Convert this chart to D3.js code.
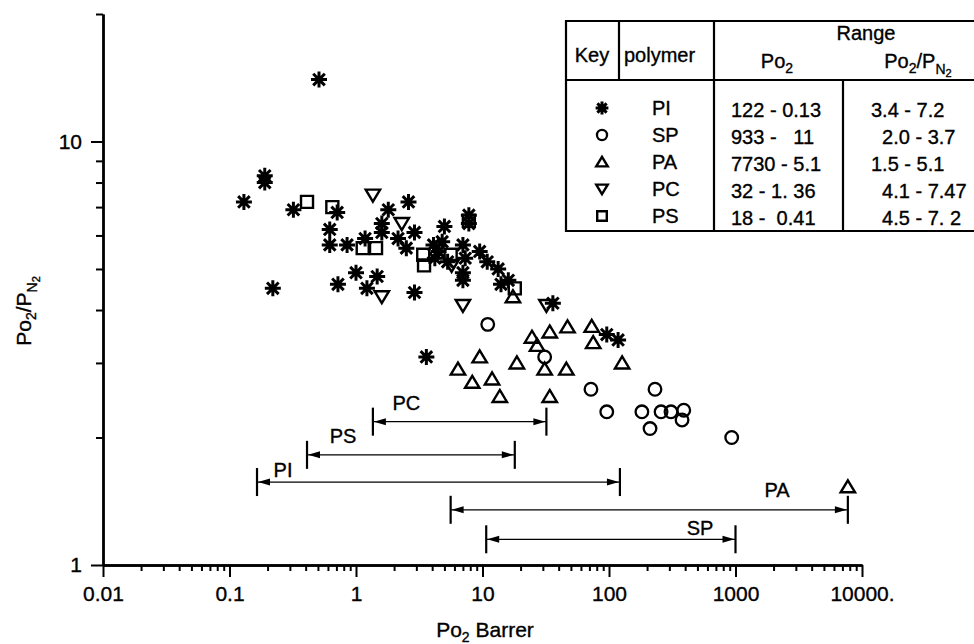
<!DOCTYPE html>
<html>
<head>
<meta charset="utf-8">
<script src="https://cdn.jsdelivr.net/npm/d3@7"></script>
<style>
  body { margin: 0; background: #fff; }
  svg { font-family: "Liberation Sans", Arial, sans-serif; }
  text { fill: #000; white-space: pre; stroke: #000; stroke-width: 0.35px; }
</style>
</head>
<body>
<svg id="SvgChart"></svg>
<script>
// ------ Data (Po2 in Barrer, selectivity Po2/PN2)
var piPoints = [[0.13,7.2],[0.19,8.3],[0.19,8.0],[0.32,6.9],[0.22,4.5],[0.51,14.0],[0.71,6.8],[0.62,6.2],[0.62,5.7],
	[0.85,5.7],[1.18,5.9],[1.6,6.4],[1.6,6.1],[1.8,6.9],[2.6,7.2],[2.15,5.9],[2.9,6.1],[2.5,5.6],[0.72,4.6],[1.0,4.9],
	[1.47,4.8],[1.22,4.5],[2.9,4.4],[3.6,3.1],[5.0,6.3],[7.8,6.7],[7.8,6.4],[4.1,5.7],[4.2,5.3],[4.8,5.8],[5.3,5.2],
	[4.5,5.5],[7.0,5.7],[7.3,5.3],[7.0,4.9],[7.0,4.7],[9.5,5.5],[10.9,5.2],[13.3,5.0],[14,4.6],[16,4.7],[36,4.15],
	[96,3.5],[118,3.4]];
var spPoints = [[11,3.7],[31,3.1],[72,2.6],[96,2.3],[182,2.3],[231,2.6],[258,2.3],[309,2.3],[390,2.32],[378,2.2],
	[211,2.1],[933,2.0]];
var paPoints = [[17.4,4.3],[24.6,3.45],[27,3.3],[34,3.55],[47,3.65],[73,3.66],[75,3.35],[127,3.0],[9.5,3.1],[18.7,3.0],
	[31,2.9],[46,2.9],[6.4,2.9],[8.3,2.7],[11.9,2.75],[13.7,2.5],[34,2.5],[7730,1.53]];
var pcPoints = [[1.36,7.47],[2.3,6.4],[1.6,4.3],[5.7,5.1],[7.0,4.1],[32,4.1]];
var psPoints = [[0.41,7.2],[0.65,7.0],[1.13,5.6],[1.44,5.6],[3.4,5.4],[3.45,5.1],[5.6,5.4],[18,4.5],[7.8,6.5]];

// ------ Range arrows
var rangeNames = ["PC","PS","PI","PA","SP"];
var rangeLo = [1.36, 0.41, 0.165, 5.6, 10.7];
var rangeHi = [32, 18, 122, 7730, 1000];
var rangeLevel = [2.18, 1.82, 1.57, 1.35, 1.15];
var rangeLabelX = [2.5, 0.79, 0.265, 2130, 524];
var rangeLabelY = [2.32, 1.94, 1.61, 1.447, 1.177];

// ------ Table (key)
var keyPolymers = ["PI","SP","PA","PC","PS"];
var keyPo2 = ["122 - 0.13","933 -   11","7730 - 5.1","32 - 1. 36","18 -  0.41"];
var keyRatio = ["3.4 - 7.2","  2.0 - 3.7","1.5 - 5.1","  4.1 - 7.47","  4.5 - 7. 2"];

// ------ Axis ticks
var xMajor = [0.01, 0.1, 1, 10, 100, 1000, 10000];
var xMajorLabels = ["0.01","0.1","1","10","100","1000","10000."];
var yMajor = [1, 10];
var yMajorLabels = ["1","10"];

// ------ Scales
var xScale = d3.scaleLog().domain([0.01, 10000]).range([103, 862]);
var yScale = d3.scaleLog().domain([1, 20]).range([565, 14]);

var svg = d3.select("#SvgChart").attr("width", 974).attr("height", 644);

// ------ Symbols
var symbolPaths = {
	PI: "M0,-8V8M-8,0H8M-5.8,-5.8L5.8,5.8M-5.8,5.8L5.8,-5.8",
	PA: "M0,-6.5L7.2,5.5H-7.2Z",
	PC: "M0,6.5L7.2,-5.5H-7.2Z",
	PS: "M-6,-6H6V6H-6Z"
};
function drawSymbol(g, kind, scale) {
	if (kind === "SP") {
		g.append("circle").attr("r", 6.3 * scale).attr("fill", "none").attr("stroke", "#000").attr("stroke-width", 2.3);
	} else {
		g.append("path").attr("d", symbolPaths[kind])
			.attr("transform", "scale(" + scale + ")")
			.attr("fill", "none").attr("stroke", "#000")
			.attr("stroke-width", (kind === "PI" ? 3 : 2.4) / scale)
			.attr("stroke-linejoin", "miter");
		if (kind === "PI") g.append("circle").attr("r", 3 * scale).attr("fill", "#000");
	}
}

// ------ Axes
var xAxisMajor = d3.axisBottom(xScale).tickValues(xMajor)
	.tickFormat(function(d, i) { return xMajorLabels[i]; })
	.tickSize(12).tickSizeOuter(0).tickPadding(9);
var xAxisMinor = d3.axisBottom(xScale)
	.tickValues(xScale.ticks().filter(function(d) { return xMajor.indexOf(d) < 0; }))
	.tickFormat("").tickSize(6).tickSizeOuter(0);
var yAxisMajor = d3.axisLeft(yScale).tickValues(yMajor)
	.tickFormat(function(d, i) { return yMajorLabels[i]; })
	.tickSize(12).tickSizeOuter(0).tickPadding(9);
var yAxisMinor = d3.axisLeft(yScale)
	.tickValues(yScale.ticks().filter(function(d) { return yMajor.indexOf(d) < 0; }))
	.tickFormat("").tickSize(7).tickSizeOuter(0);

[[xAxisMinor, "x"], [xAxisMajor, "x"], [yAxisMinor, "y"], [yAxisMajor, "y"]].forEach(function(a) {
	var g = svg.append("g")
		.attr("transform", a[1] === "x" ? "translate(0,565)" : "translate(103,0)")
		.call(a[0]);
	g.selectAll("path.domain").attr("stroke", "#000").attr("stroke-width", 2.4);
	g.selectAll(".tick line").attr("stroke", "#000").attr("stroke-width", 2);
	g.selectAll(".tick text").attr("font-size", 21).attr("fill", "#000")
		.attr("font-family", "'Liberation Sans', Arial, sans-serif");
});

// axis titles
svg.append("text").attr("x", 485).attr("y", 637).attr("text-anchor", "middle").attr("font-size", 21)
	.call(function(t) {
		t.append("tspan").text("Po");
		t.append("tspan").attr("dy", 5).attr("font-size", 14).text("2");
		t.append("tspan").attr("dy", -5).text(" Barrer");
	});
svg.append("text").attr("transform", "translate(31,311) rotate(-90)").attr("text-anchor", "middle").attr("font-size", 21)
	.call(function(t) {
		t.append("tspan").text("Po");
		t.append("tspan").attr("dy", 5).attr("font-size", 14).text("2");
		t.append("tspan").attr("dy", -5).text("/P");
		t.append("tspan").attr("dy", 6).attr("font-size", 14).text("N");
		t.append("tspan").attr("dy", 3).attr("font-size", 11).text("2");
	});

// ------ Range arrows
var arrows = svg.append("g");
rangeNames.forEach(function(name, i) {
	var x0 = xScale(rangeLo[i]), x1 = xScale(rangeHi[i]), y = yScale(rangeLevel[i]);
	arrows.append("line").attr("x1", x0).attr("x2", x1).attr("y1", y).attr("y2", y)
		.attr("stroke", "#000").attr("stroke-width", 1.3);
	[x0, x1].forEach(function(xe, k) {
		var dir = k === 0 ? 1 : -1;
		arrows.append("line").attr("x1", xe).attr("x2", xe).attr("y1", y - 14).attr("y2", y + 14)
			.attr("stroke", "#000").attr("stroke-width", 2.2);
		arrows.append("path")
			.attr("d", "M" + (xe + dir * 1) + "," + y + "L" + (xe + dir * 13) + "," + (y - 3.5) + "L" + (xe + dir * 13) + "," + (y + 3.5) + "Z")
			.attr("fill", "#000");
	});
	arrows.append("text").attr("x", xScale(rangeLabelX[i])).attr("y", yScale(rangeLabelY[i]))
		.attr("text-anchor", "middle").attr("font-size", 20).text(name);
});

// ------ Points
var series = [["PI", piPoints], ["SP", spPoints], ["PA", paPoints], ["PC", pcPoints], ["PS", psPoints]];
series.forEach(function(s) {
	svg.append("g").selectAll("g").data(s[1]).enter().append("g")
		.attr("transform", function(d) { return "translate(" + xScale(d[0]) + "," + yScale(d[1]) + ")"; })
		.each(function() { drawSymbol(d3.select(this), s[0], 1); });
});

// ------ Key table
var table = svg.append("g").attr("stroke", "#000").attr("stroke-width", 2.2);
table.append("path").attr("fill", "none")
	.attr("d", "M980,21H566V231H980M566,80H980M619,21V80M714,21V231M843,80V231");
var tt = svg.append("g").attr("font-size", 20);
tt.append("text").attr("x", 592).attr("y", 62).attr("text-anchor", "middle").text("Key");
tt.append("text").attr("x", 624).attr("y", 62).text("polymer");
tt.append("text").attr("x", 866).attr("y", 40).attr("text-anchor", "middle").text("Range");
tt.append("text").attr("x", 777).attr("y", 68).attr("text-anchor", "middle")
	.call(function(t) {
		t.append("tspan").text("Po");
		t.append("tspan").attr("dy", 5).attr("font-size", 14).text("2");
	});
tt.append("text").attr("x", 918).attr("y", 68).attr("text-anchor", "middle")
	.call(function(t) {
		t.append("tspan").text("Po");
		t.append("tspan").attr("dy", 5).attr("font-size", 14).text("2");
		t.append("tspan").attr("dy", -5).text("/P");
		t.append("tspan").attr("dy", 6).attr("font-size", 14).text("N");
		t.append("tspan").attr("dy", 3).attr("font-size", 11).text("2");
	});
keyPolymers.forEach(function(p, i) {
	var base = 115 + i * 27;
	drawSymbol(tt.append("g").attr("transform", "translate(602," + (base - 7) + ")"), p, 0.8);
	tt.append("text").attr("x", 652).attr("y", base).text(p);
	tt.append("text").attr("x", 731).attr("y", base + 2).text(keyPo2[i]);
	tt.append("text").attr("x", 871).attr("y", base + 2).text(keyRatio[i]);
});
</script>
</body>
</html>
